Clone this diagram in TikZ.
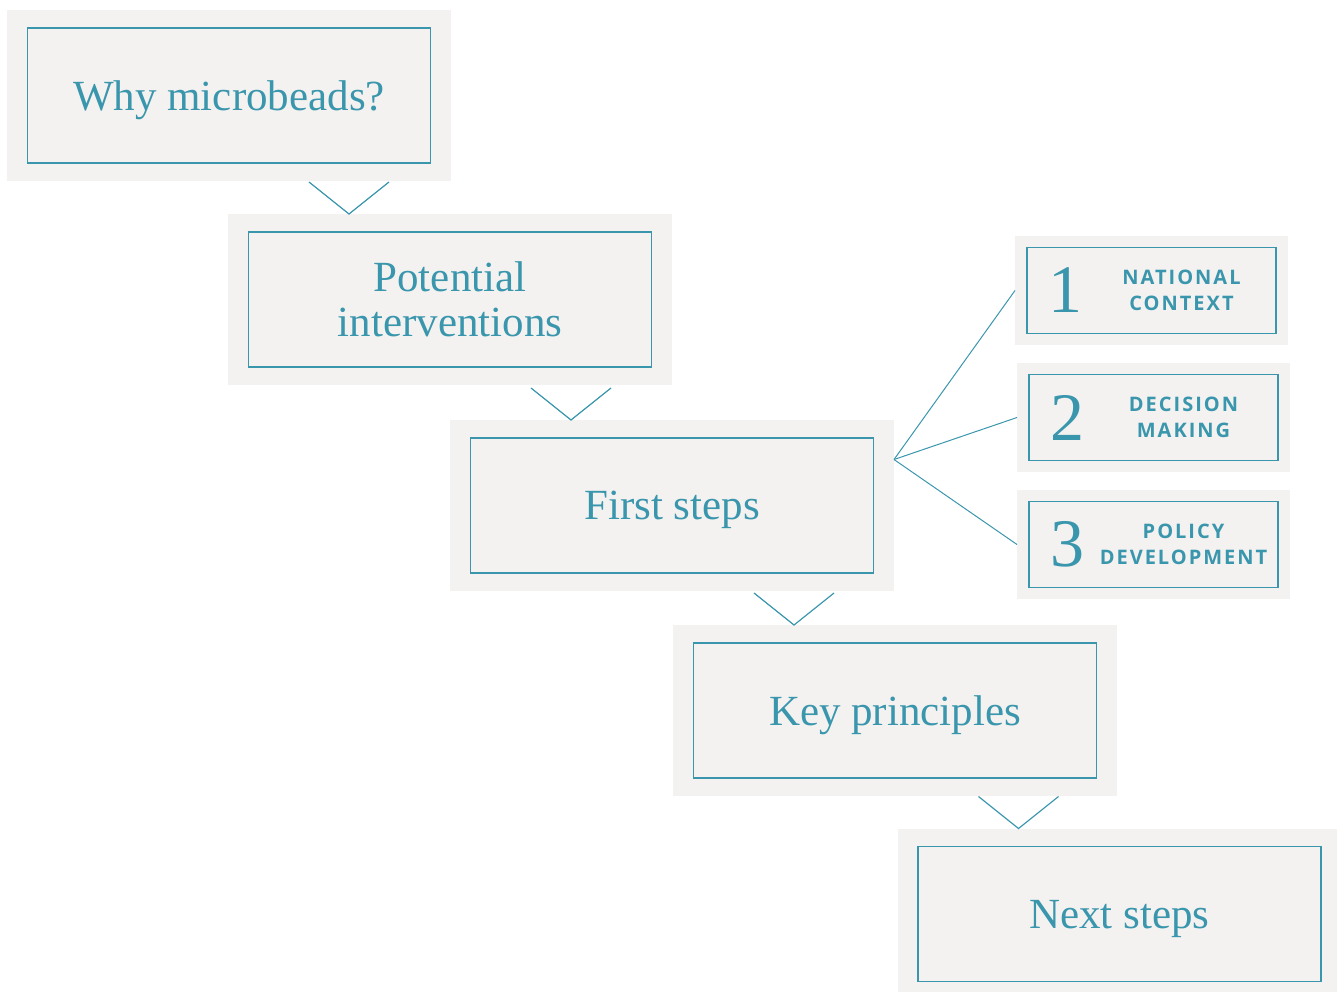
\documentclass[tikz,border=0pt]{standalone}
\usepackage{fontspec}
\setmainfont{Liberation Serif}
\newfontfamily\capsfont[LetterSpace=10]{Open Sans}
\usetikzlibrary{positioning}
\definecolor{beadteal}{HTML}{3A96AD}
\definecolor{panelgrey}{HTML}{F3F2F0}
\tikzset{panel/.style={fill=panelgrey, minimum width=444, minimum height=171,
        inner sep=0, outer sep=0},
    card/.style={draw=beadteal, line width=1.2, minimum width=403, minimum height=135,
        inner sep=0, text=beadteal, font=\fontsize{43}{45}\selectfont},
    oneline/.style={text depth=0pt},
    twoline/.style={align=center},
    sidepanel/.style={fill=panelgrey, minimum width=273, minimum height=109,
        inner sep=0, outer sep=0},
    sidecard/.style={draw=beadteal, line width=1.2, minimum width=249, minimum height=86,
        inner sep=0},
    bignum/.style={text=beadteal, inner sep=0, font=\fontsize{68}{68}\selectfont},
    capslabel/.style={text=beadteal, inner sep=0, align=center,
        font=\capsfont\bfseries\fontsize{20}{26}\selectfont},
    chev/.style={draw=beadteal, line width=1.2},
    fork/.style={draw=beadteal, line width=1}}

\begin{document}
\begin{tikzpicture}[x=1pt, y=-1pt]
        \useasboundingbox (0,0) rectangle (1337,991);
        % main column of steps
        \foreach \i/\px/\py/\opt/\label in {1/229/95.5/oneline/Why microbeads?,
                                            2/450/299.5/twoline/{Potential\\interventions},
                                            3/672/505.5/oneline/First steps,
                                            4/895/710.5/oneline/Key principles,
                                            5/1119.5/914/oneline/Next steps}
        {
            \node[panel] (p\i) at (\px, \py) {};
            \node[card, \opt] (b\i) at (p\i.center) {\label};
        }
        % chevrons between the steps
        \foreach \i [count=\j from 2] in {1,...,4}
        {
            \coordinate (tip\i) at ([xshift=-101]p\j.north);
            \draw[chev] (tip\i) ++(-40,-32) -- (tip\i) -- ++(40,-32);
        }

        % the three first steps
        \node[sidepanel] (sp1) at (1151.5, 290.5) {};
        \node[sidepanel] (sp2) at (1153.5, 417.5) {};
        \node[sidepanel] (sp3) at (1153.5, 544.5) {};
        \foreach \i/\caps in {1/{NATIONAL\\CONTEXT}, 2/{DECISION\\MAKING},
                              3/{POLICY\\DEVELOPMENT}}
        {
            \node[sidecard] (sc\i) at (sp\i.center) {};
            \node[bignum] (num\i) at ([xshift=-86]sc\i.center) {\i};
            \node[capslabel] (cap\i) at ([xshift=30]sc\i.center) {\caps};
        }
        \coordinate (fork) at ([yshift=46]p3.east);
        \foreach \i in {1,2,3}
            \draw[fork] (fork) -- (sp\i.west);
    \end{tikzpicture}
\end{document}
